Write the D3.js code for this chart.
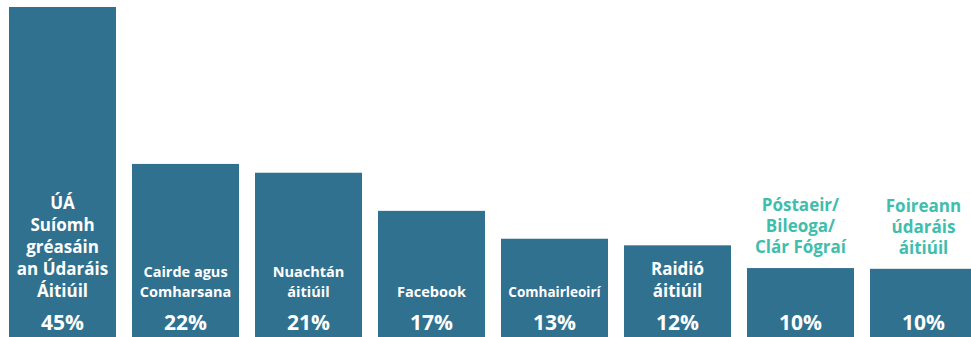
<!DOCTYPE html>
<html>
<head>
<meta charset="utf-8">
<script src="https://cdn.jsdelivr.net/npm/d3@7"></script>
<style>
  body { margin: 0; background: #fff; }
  svg { display: block; font-family: "Open Sans", Lato, sans-serif; font-weight: 700; }
</style>
</head>
<body>
<div id="chart"></div>
<script>
// categories (label lines) and values
const categories = ["ua", "cairde", "nuachtan", "facebook", "comhairleoiri", "raidio", "postaeir", "foireann"];
const labelLines = [
    ["ÚÁ", "Suíomh", "gréasáin", "an Údaráis", "Áitiúil"],
    ["Cairde agus", "Comharsana"],
    ["Nuachtán", "áitiúil"],
    ["Facebook"],
    ["Comhairleoirí"],
    ["Raidió", "áitiúil"],
    ["Póstaeir/", "Bileoga/", "Clár Fógraí"],
    ["Foireann", "údaráis", "áitiúil"]
];
const percentLabels = ["45%", "22%", "21%", "17%", "13%", "12%", "10%", "10%"];
// bar heights as drawn in the picture (percent units)
const values = [45, 23.6, 22.4, 17.2, 13.4, 12.5, 9.4, 9.3];
const labelOutside = [false, false, false, false, false, false, true, true];
// label font size and line height per bar
const labelSizes = [17, 14.5, 14.5, 14.5, 13.5, 17, 17, 17];
const lineHeights = [22, 20, 20, 20, 20, 22, 21, 21];

const width = 971;
const height = 337;
const barColor = "#30718f";
const tealColor = "#3fbdad";

const svg = d3.select("#chart")
    .append("svg")
    .attr("width", width)
    .attr("height", height);

const x = d3.scaleBand()
    .domain(categories)
    .range([9, 977])
    .paddingInner(0.13)
    .paddingOuter(0);

const y = d3.scaleLinear()
    .domain([0, 45])
    .range([337, 7]);

const data = categories.map((c, i) => ({
    key: c,
    value: values[i],
    lines: labelLines[i],
    pct: percentLabels[i],
    outside: labelOutside[i],
    fs: labelSizes[i],
    lh: lineHeights[i]
}));

const bar = svg.selectAll(".bar")
    .data(data)
    .enter().append("g")
    .attr("class", "bar");

bar.append("rect")
    .attr("x", d => x(d.key))
    .attr("y", d => y(d.value))
    .attr("width", x.bandwidth())
    .attr("height", d => y(0) - y(d.value))
    .attr("fill", barColor);

// percentage labels
bar.append("text")
    .attr("x", d => x(d.key) + x.bandwidth() / 2)
    .attr("y", 329.5)
    .attr("text-anchor", "middle")
    .attr("fill", "#fff")
    .attr("font-size", 21)
    .text(d => d.pct);

// category labels, bottom aligned
bar.each(function(d) {
    const g = d3.select(this);
    const lastBase = d.outside ? y(d.value) - 15 : 297;
    const n = d.lines.length;
    d.lines.forEach((line, k) => {
        g.append("text")
            .attr("x", x(d.key) + x.bandwidth() / 2)
            .attr("y", lastBase - (n - 1 - k) * d.lh)
            .attr("text-anchor", "middle")
            .attr("fill", d.outside ? tealColor : "#fff")
            .attr("font-size", d.fs)
            .text(line);
    });
});
</script>
</body>
</html>
